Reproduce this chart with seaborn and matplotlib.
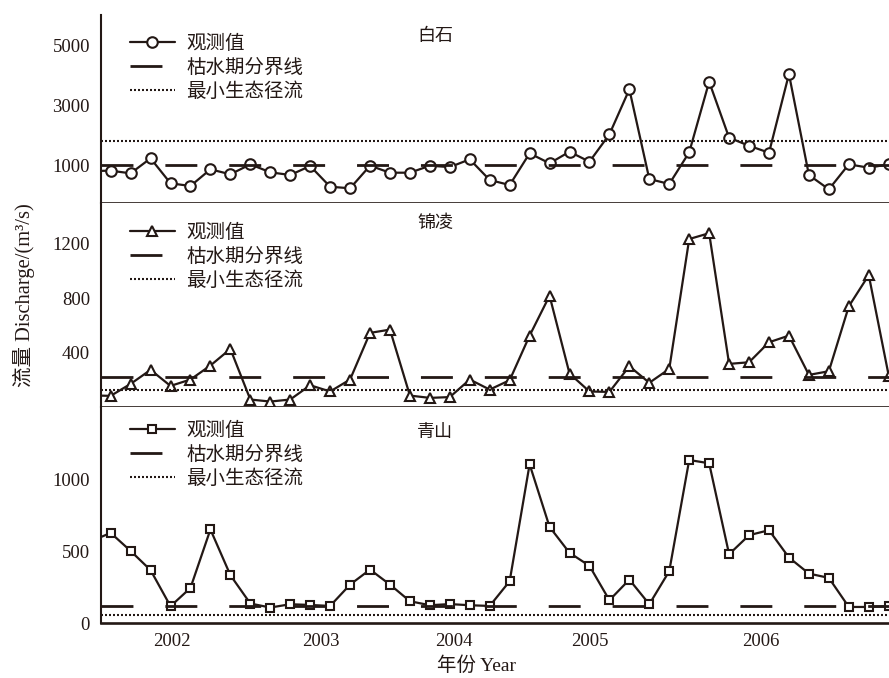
import numpy as np
import pandas as pd
import matplotlib
matplotlib.use("Agg")
import matplotlib.pyplot as plt
import seaborn as sns

# ---- data -------------------------------------------------------------
# Discharge (m³/s) at each sampling step; the first step sits just left of the frame
baishi = [800, 810, 722, 1224, 388, 298, 856, 689, 1023, 756, 666, 967, 274, 221, 977,
          743, 743, 977, 930, 1190, 498, 331, 1391, 1057, 1445, 1111, 2027, 3532, 532,
          365, 1425, 3786, 1913, 1645, 1411, 4043, 666, 187, 1023, 910, 1023]
jinling = [85, 82, 170, 273, 155, 202, 305, 427, 55, 40, 55, 160, 114, 202, 545, 569,
           84, 67, 73, 202, 128, 197, 525, 818, 246, 114, 111, 300, 178, 280, 1235,
           1278, 317, 329, 476, 525, 236, 263, 740, 970, 231]
qingshan = [570, 629, 503, 369, 117, 245, 653, 334, 136, 108, 131, 126, 119, 268, 373,
            268, 152, 124, 132, 124, 119, 292, 1108, 671, 490, 399, 159, 303, 131, 362,
            1138, 1115, 480, 613, 648, 457, 345, 315, 112, 112, 117]

stations = ["白石", "锦凌", "青山"]
dry_season_line = [1000, 224, 119]      # 枯水期分界线
min_eco_flow = [1800, 123, 59]          # 最小生态径流
year_labels = ["2002", "2003", "2004", "2005", "2006"]
year_positions = [3.07, 10.54, 17.2, 24.0, 32.6]
yticks = [[1000, 3000, 5000], [400, 800, 1200], [0, 500, 1000]]
ylims = [(-271, 6020), (0, 1500), (0, 1508)]
markers = ["o", "^", "s"]
marker_sizes = [7.6, 7.8, 6.2]

legend_labels = ["观测值", "枯水期分界线", "最小生态径流"]

steps = np.arange(-1, len(baishi) - 1)
series = [baishi, jinling, qingshan]

# ---- style ------------------------------------------------------------
sns.set_style("white")
INK = "#231815"
plt.rcParams["font.family"] = ["Liberation Serif", "Noto Sans CJK SC"]
plt.rcParams["lines.scale_dashes"] = False
plt.rcParams["axes.unicode_minus"] = False

W, H = 889, 678
fig = plt.figure(figsize=(W / 100, H / 100), dpi=100)

left_px, right_px = 101, 889
panels_px = [(15, 203), (203, 407), (407, 623)]   # top / bottom edge of each panel
legend_top_px = [35, 224, 422]
station_px = [(435, 36), (435, 223), (435, 433)]


def rect(top, bottom):
    return [left_px / W, 1 - bottom / H, (right_px - left_px) / W, (bottom - top) / H]


axes = []
for i, (top, bottom) in enumerate(panels_px):
    ax = fig.add_axes(rect(top, bottom))
    axes.append(ax)
    df = pd.DataFrame({"step": steps, "flow": series[i]})
    sns.lineplot(data=df, x="step", y="flow", ax=ax, color=INK, lw=1.6,
                 marker=markers[i], markersize=marker_sizes[i],
                 markerfacecolor="white", markeredgecolor=INK, markeredgewidth=1.5,
                 errorbar=None, label=legend_labels[0], legend=False)
    ax.axhline(dry_season_line[i], color=INK, lw=2.0,
               linestyle=(0, (23.0, 23.0)), label=legend_labels[1])
    ax.axhline(min_eco_flow[i], color=INK, lw=1.5,
               linestyle=(0, (1.44, 1.44)), label=legend_labels[2])

    ax.set_xlim(-0.485, 39.015)
    ax.set_ylim(*ylims[i])
    ax.set_yticks(yticks[i])
    ax.set_xlabel("")
    ax.set_ylabel("")

    for side in ("top", "right"):
        ax.spines[side].set_visible(False)
    ax.spines["left"].set_linewidth(1.5)
    ax.spines["bottom"].set_linewidth(1.9)
    for side in ("left", "bottom"):
        ax.spines[side].set_color(INK)

    ax.tick_params(axis="y", direction="in", length=5.8, width=1.1, color=INK,
                   labelsize=13.5, labelcolor=INK, pad=8)
    if i < 2:
        ax.set_xticks([])
    else:
        ax.set_xticks(year_positions)
        ax.set_xticklabels(year_labels)
        ax.tick_params(axis="x", length=0, labelsize=13.5, labelcolor=INK, pad=7)

    h = bottom - top
    leg = ax.legend(loc="upper left",
                    bbox_to_anchor=((130 - left_px) / (right_px - left_px),
                                    1 - (legend_top_px[i] - top) / h),
                    frameon=False, fontsize=14, handlelength=2.31, handletextpad=0.57,
                    labelspacing=0.28, borderpad=0, borderaxespad=0)
    for t in leg.get_texts():
        t.set_color(INK)

    sx, sy = station_px[i]
    fig.text(sx / W, 1 - sy / H, stations[i], ha="center", va="center",
             fontsize=13, color=INK)

fig.text(476 / W, 1 - 666 / H, "年份 Year", ha="center", va="center",
         fontsize=14, color=INK)
fig.text(24 / W, 1 - 295 / H, "流量 Discharge/(m³/s)", ha="center", va="center",
         rotation=90, fontsize=14.8, color=INK)

fig.savefig("out.png", dpi=100, facecolor="white")
